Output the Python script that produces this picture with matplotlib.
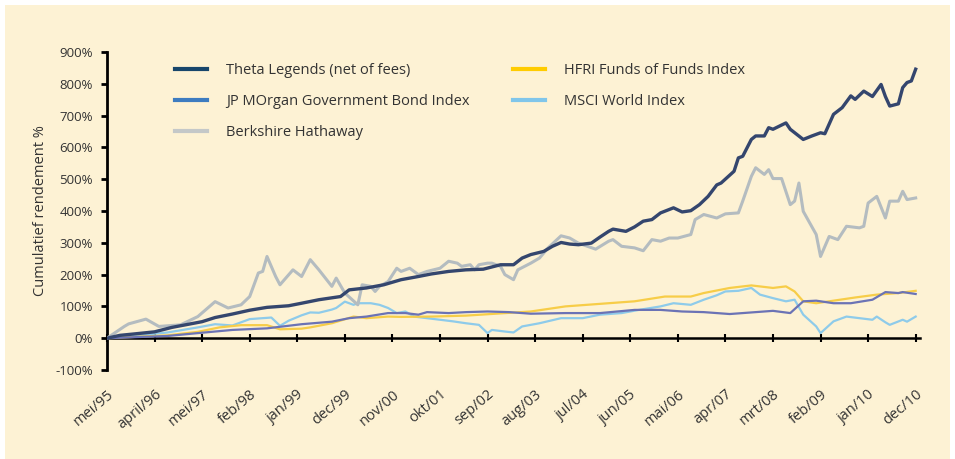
import numpy as np
import matplotlib.pyplot as plt
from matplotlib.lines import Line2D
from matplotlib.patches import Rectangle

plt.rcParams['font.family'] = ['Open Sans', 'DejaVu Sans']

# x-axis category labels, one every 11 months starting mei/95
tick_labels = ['mei/95', 'april/96', 'mei/97', 'feb/98', 'jan/99', 'dec/99',
               'nov/00', 'okt/01', 'sep/02', 'aug/03', 'jul/04', 'jun/05',
               'mai/06', 'apr/07', 'mrt/08', 'feb/09', 'jan/10', 'dec/10']

# months since mei/95 and cumulative return in %
theta_months = [0, 3, 6, 11, 15, 22, 25, 29, 33, 37, 42, 45, 49, 54, 56, 60, 64, 68, 72, 75,
                79, 83, 87, 91, 94, 96, 98, 101, 103, 105, 107, 109, 112, 114, 116, 117, 120, 122, 124, 126,
                128, 131, 133, 135, 137, 139, 141, 142, 145, 146, 147, 149, 150, 152, 153, 154, 157, 158, 161, 163,
                165, 166, 168, 170, 172, 173, 175, 177, 179, 180, 181, 183, 184, 185, 186, 187]
theta = [0, 9, 13, 20, 34, 52, 65, 76, 88, 97, 102, 110, 121, 131, 152, 158, 168, 184, 194, 202,
         210, 215, 217, 231, 231, 252, 263, 273, 289, 301, 296, 294, 299, 318, 336, 343, 336, 350, 368, 373,
         394, 410, 397, 401, 420, 446, 482, 488, 525, 567, 572, 625, 636, 636, 662, 657, 677, 657, 625, 636,
         646, 643, 704, 725, 762, 751, 777, 760, 798, 760, 730, 737, 788, 804, 809, 846]

brk_months = [0, 4, 5, 9, 12, 17, 21, 25, 28, 31, 33, 35, 36, 37, 39, 40, 43, 45, 47, 49,
              52, 53, 55, 58, 59, 61, 62, 63, 65, 67, 68, 70, 72, 74, 77, 79, 81, 82, 84, 85,
              86, 88, 89, 91, 92, 94, 95, 98, 100, 102, 105, 107, 109, 113, 116, 117, 119, 122, 124, 126,
              128, 130, 132, 135, 136, 138, 141, 143, 146, 147, 149, 150, 152, 153, 154, 156, 158, 159, 160, 161,
              164, 165, 167, 169, 171, 174, 175, 176, 178, 180, 181, 183, 184, 185, 187]
berkshire = [0, 37, 45, 60, 37, 42, 68, 115, 95, 105, 131, 205, 210, 257, 194, 168, 215, 194, 247, 215,
             163, 189, 142, 105, 168, 163, 147, 163, 178, 220, 210, 220, 200, 210, 220, 242, 236, 226, 231, 215,
             231, 236, 236, 226, 200, 184, 215, 236, 252, 284, 322, 315, 299, 280, 305, 310, 289, 284, 275, 310,
             305, 315, 315, 326, 373, 389, 378, 391, 394, 431, 509, 536, 515, 530, 502, 502, 420, 431, 488, 399,
             326, 257, 320, 310, 352, 347, 352, 425, 446, 378, 431, 431, 462, 436, 441]

msci_months = [0, 6, 14, 21, 25, 29, 33, 38, 40, 42, 45, 47, 49, 52, 53, 55, 57, 58, 61, 63,
               65, 67, 69, 71, 74, 77, 80, 83, 86, 88, 89, 92, 94, 96, 100, 105, 110, 114, 119, 123,
               128, 131, 135, 138, 141, 143, 146, 149, 151, 154, 157, 159, 161, 164, 165, 168, 171, 174, 177, 178,
               180, 181, 184, 185, 187]
msci = [0, 7, 18, 34, 44, 40, 60, 65, 39, 55, 72, 81, 80, 90, 95, 115, 105, 110, 110, 105,
        95, 79, 84, 68, 63, 58, 53, 47, 42, 16, 26, 21, 18, 37, 47, 63, 63, 74, 79, 89,
        100, 110, 105, 121, 135, 147, 149, 158, 137, 126, 116, 121, 74, 37, 16, 53, 68, 63, 58, 68,
        50, 42, 58, 52, 68]

hfri_months = [0, 14, 21, 26, 31, 37, 40, 45, 47, 52, 57, 60, 65, 68, 75, 83, 91, 98, 106, 114,
               122, 129, 135, 138, 144, 149, 154, 157, 159, 161, 164, 168, 173, 178, 183, 187]
hfri = [0, 9, 20, 34, 41, 41, 28, 30, 34, 47, 68, 63, 68, 67, 68, 71, 78, 84, 100, 108,
        116, 131, 131, 142, 158, 166, 158, 163, 147, 116, 110, 118, 128, 137, 142, 149]

jpm_months = [0, 14, 21, 29, 37, 45, 52, 56, 60, 65, 69, 72, 74, 79, 83, 88, 93, 98, 106, 114,
              122, 128, 133, 138, 144, 150, 154, 158, 161, 164, 168, 172, 177, 180, 183, 184, 187]
jpm = [0, 7, 16, 26, 31, 44, 52, 63, 68, 79, 79, 74, 82, 79, 82, 84, 82, 77, 79, 79,
       89, 89, 84, 82, 76, 82, 86, 79, 116, 118, 110, 110, 121, 145, 142, 145, 139]

fig = plt.figure(figsize=(9.55, 4.59), dpi=100, facecolor='white')
fig.patches.append(Rectangle((5 / 955, 0), 945 / 955, 454 / 459, transform=fig.transFigure,
                             facecolor='#fdf2d4', edgecolor='none', zorder=-10))
ax = fig.add_axes([107 / 955, 89 / 459, 813 / 955, 318 / 459])
ax.patch.set_visible(False)

ax.plot(msci_months, msci, color='#8ecbea', lw=1.6, zorder=2)
ax.plot(hfri_months, hfri, color='#f7cd48', lw=1.6, zorder=3)
ax.plot(jpm_months, jpm, color='#6b73b5', lw=1.6, zorder=4)
ax.plot(brk_months, berkshire, color='#b4bcc0', lw=2.2, zorder=5)
ax.plot(theta_months, theta, color='#34466e', lw=2.4, zorder=6)

ax.set_xlim(0, 188)
ax.set_ylim(-100, 900)
ax.set_yticks(np.arange(-100, 1000, 100))
ax.set_yticklabels([f'{v}%' for v in range(-100, 1000, 100)])
ax.set_xticks(np.arange(len(tick_labels)) * 11)
ax.set_xticklabels(tick_labels)

for s in ['top', 'right']:
    ax.spines[s].set_visible(False)
ax.spines['bottom'].set_position(('data', 0))
ax.spines['bottom'].set_linewidth(1.8)
ax.spines['left'].set_linewidth(2.0)
ax.spines['bottom'].set_zorder(1)

ax.tick_params(axis='y', direction='out', length=4, width=2, pad=6, labelsize=9.5, labelcolor='#333333')
ax.tick_params(axis='x', direction='inout', length=6, width=1.5, pad=32, labelsize=10.5, labelcolor='#333333')
plt.setp(ax.get_xticklabels(), rotation=40, ha='right', va='top', rotation_mode='anchor')

ax.set_ylabel('Cumulatief rendement %', fontsize=10.5, color='#333333')
ax.yaxis.set_label_coords(-0.073, 0.5)

handles = [Line2D([], [], color='#17466b', lw=3),
           Line2D([], [], color='#3d7cc0', lw=3),
           Line2D([], [], color='#c4c8c8', lw=3),
           Line2D([], [], color='#ffcc00', lw=3),
           Line2D([], [], color='#80c6ea', lw=3)]
names = ['Theta Legends (net of fees)', 'JP MOrgan Government Bond Index', 'Berkshire Hathaway',
         'HFRI Funds of Funds Index', 'MSCI World Index']
leg = fig.legend(handles, names, ncol=2, loc='upper left', bbox_to_anchor=(175 / 955, 396 / 459),
                 frameon=False, fontsize=10.5, handlelength=2.2, handletextpad=1.3,
                 columnspacing=2.95, labelspacing=1.1, borderpad=0, borderaxespad=0)
for t in leg.get_texts():
    t.set_color('#333333')

plt.savefig('out.png', dpi=100, facecolor='white')
